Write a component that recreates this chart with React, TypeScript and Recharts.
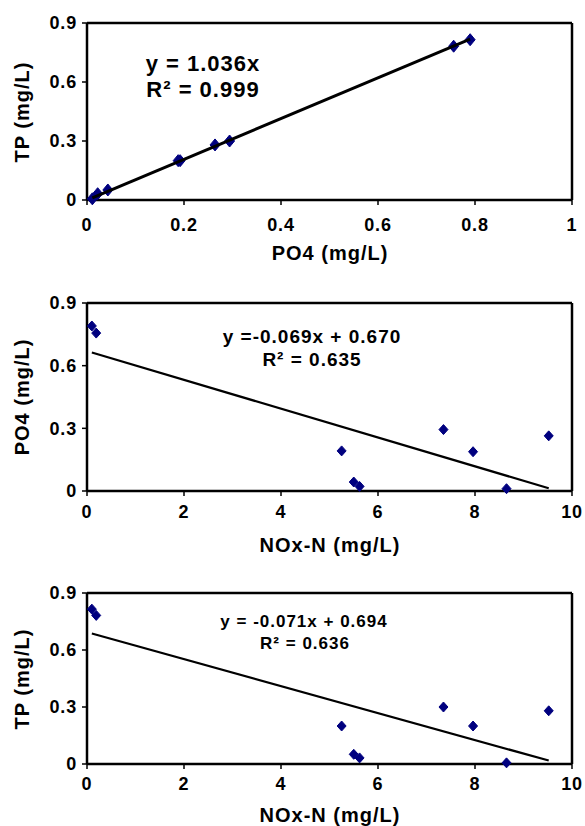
import React from 'react';
import { ScatterChart, Scatter, XAxis, YAxis, ReferenceLine } from 'recharts';

// samples
const NOX = [0.1, 0.19, 5.25, 5.5, 5.62, 7.35, 7.96, 8.65, 9.52];
const PO4 = [0.79, 0.756, 0.192, 0.043, 0.022, 0.294, 0.188, 0.011, 0.264];
const TP = [0.815, 0.782, 0.2, 0.051, 0.032, 0.3, 0.2, 0.006, 0.28];

// trendline equations as printed
const FIT_TP_PO4 = { m: 1.036, b: 0 };
const FIT_PO4_NOX = { m: -0.069, b: 0.67 };
const FIT_TP_NOX = { m: -0.071, b: 0.694 };

const Y_TICKS = [0, 0.3, 0.6, 0.9];
const PO4_TICKS = [0, 0.2, 0.4, 0.6, 0.8, 1];
const NOX_TICKS = [0, 2, 4, 6, 8, 10];

const FONT = '"Liberation Sans", Arial, Helvetica, sans-serif';
const NAVY = '#00007f';

const diamond = (rx: number, ry: number) => (p: any) => {
    const { cx, cy } = p;
    if (cx == null || cy == null) return <g />;
    return (
        <polygon
            points={`${cx},${cy - ry} ${cx + rx},${cy} ${cx},${cy + ry} ${cx - rx},${cy}`}
            fill={NAVY}
            stroke={NAVY}
            strokeWidth={1}
        />
    );
};

const noDot = () => <g />;

interface PanelProps {
    xs: number[];
    ys: number[];
    fit: { m: number; b: number };
    xTicks: number[];
    height: number;
    plotTop: number;
    axisHeight: number;
    tickMargin: number;
    dot: [number, number];
    lineWidth: number;
}

function Panel({ xs, ys, fit, xTicks, height, plotTop, axisHeight, tickMargin, dot, lineWidth }: PanelProps) {
    const points = xs.map((x, i) => ({ x, y: ys[i] }));
    const x0 = Math.min(...xs);
    const x1 = Math.max(...xs);
    const trend = [
        { x: x0, y: fit.m * x0 + fit.b },
        { x: x1, y: fit.m * x1 + fit.b }
    ];
    const tick = { fill: '#000', fontSize: 18, fontWeight: 700, fontFamily: FONT, letterSpacing: 0.8 };
    const xMax = xTicks[xTicks.length - 1];
    return (
        <ScatterChart width={585} height={height} margin={{ top: plotTop, right: 13, left: 0, bottom: 0 }}>
            <XAxis
                type="number"
                dataKey="x"
                domain={[0, xMax]}
                ticks={xTicks}
                interval={0}
                height={axisHeight}
                tick={tick}
                tickSize={5}
                tickMargin={tickMargin}
                axisLine={{ stroke: '#000', strokeWidth: 2.5 }}
                tickLine={{ stroke: '#000', strokeWidth: 1.5 }}
            />
            <YAxis
                type="number"
                dataKey="y"
                domain={[0, 0.9]}
                ticks={Y_TICKS}
                interval={0}
                width={87}
                tick={tick}
                tickSize={5}
                tickMargin={5}
                axisLine={{ stroke: '#000', strokeWidth: 2.5 }}
                tickLine={{ stroke: '#000', strokeWidth: 1.5 }}
            />
            <ReferenceLine y={0.9} stroke="#000" strokeWidth={2.5} />
            <ReferenceLine x={xMax} stroke="#000" strokeWidth={2.5} />
            <Scatter data={points} shape={diamond(dot[0], dot[1])} isAnimationActive={false} />
            <Scatter
                data={trend}
                shape={noDot}
                line={{ stroke: '#000', strokeWidth: lineWidth }}
                isAnimationActive={false}
            />
        </ScatterChart>
    );
}

const titleStyle: React.CSSProperties = {
    position: 'absolute',
    fontFamily: FONT,
    fontWeight: 700,
    fontSize: 20,
    letterSpacing: 1,
    lineHeight: 1,
    whiteSpace: 'nowrap',
    color: '#000'
};

function Title({ x, y, text, rotate = false, size = 20, spacing = 1 }: { x: number; y: number; text: string; rotate?: boolean; size?: number; spacing?: number }) {
    return (
        <div
            style={{
                ...titleStyle,
                fontSize: size,
                letterSpacing: spacing,
                left: x,
                top: y,
                transform: `translate(-50%, -50%)${rotate ? ' rotate(-90deg)' : ''}`
            }}
        >
            {text}
        </div>
    );
}

export default function App() {
    return (
        <div style={{ position: 'absolute', left: 0, top: 0, width: 585, height: 826, background: '#fff', overflow: 'hidden' }}>
            <div style={{ position: 'absolute', left: 0, top: 0 }}>
                <Panel xs={PO4} ys={TP} fit={FIT_TP_PO4} xTicks={PO4_TICKS} height={270} plotTop={23}
                    axisHeight={70} tickMargin={13} dot={[5, 6]} lineWidth={3} />
            </div>
            <div style={{ position: 'absolute', left: 0, top: 270 }}>
                <Panel xs={NOX} ys={PO4} fit={FIT_PO4_NOX} xTicks={NOX_TICKS} height={285} plotTop={33}
                    axisHeight={64} tickMargin={9} dot={[4.5, 5]} lineWidth={2.2} />
            </div>
            <div style={{ position: 'absolute', left: 0, top: 555 }}>
                <Panel xs={NOX} ys={TP} fit={FIT_TP_NOX} xTicks={NOX_TICKS} height={271} plotTop={38}
                    axisHeight={62} tickMargin={8} dot={[4.5, 5]} lineWidth={2.2} />
            </div>

            <Title x={21.5} y={111.5} text="TP (mg/L)" rotate />
            <Title x={330} y={252.5} text="PO4 (mg/L)" />
            <Title x={203} y={64} text="y = 1.036x" size={22} />
            <Title x={203} y={90} text="R² = 0.999" size={22} />

            <Title x={21.5} y={397} text="PO4 (mg/L)" rotate />
            <Title x={330} y={545} text="NOx-N (mg/L)" />
            <Title x={312} y={336} text="y =-0.069x + 0.670" size={19} />
            <Title x={312} y={359} text="R² = 0.635" size={19} />

            <Title x={21.5} y={678.5} text="TP (mg/L)" rotate />
            <Title x={330} y={815} text="NOx-N (mg/L)" />
            <Title x={304} y={621} text="y = -0.071x + 0.694" size={17} />
            <Title x={305} y={643} text="R² = 0.636" size={17} />
        </div>
    );
}
